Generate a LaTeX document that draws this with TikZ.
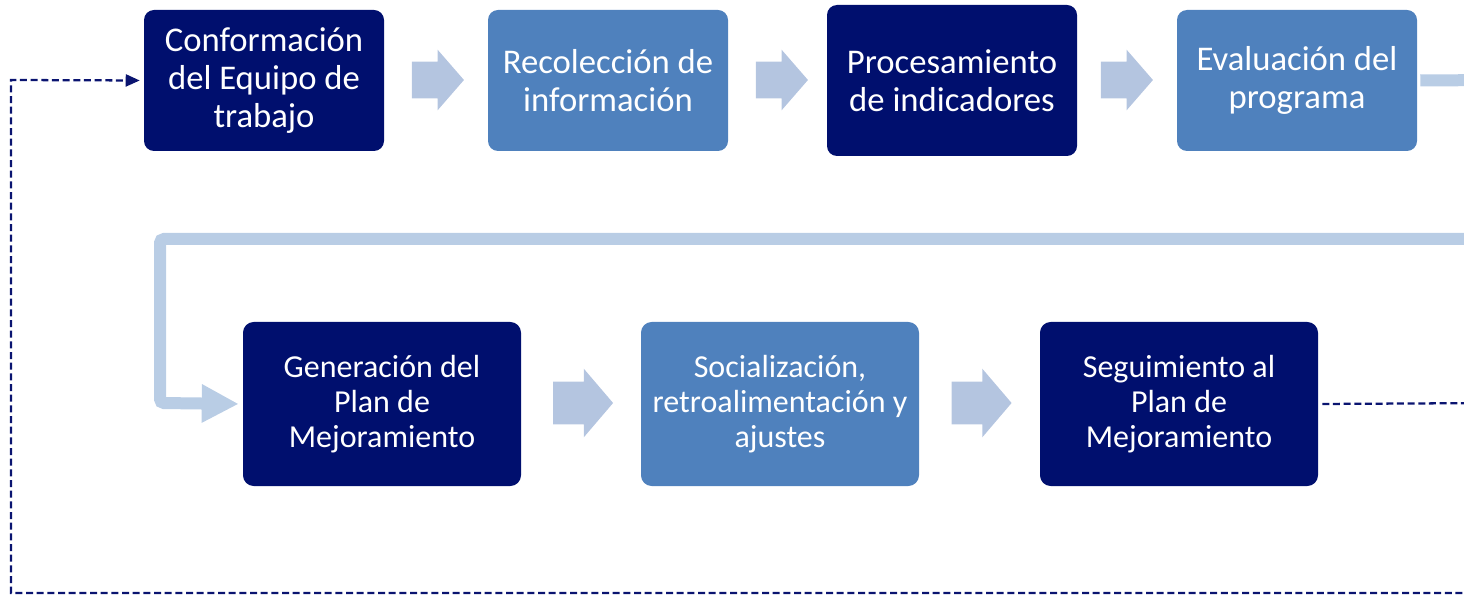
\documentclass[tikz,border=0pt]{standalone}
\usepackage{fontspec}
\setmainfont{Carlito}
\usetikzlibrary{arrows.meta}
\usetikzlibrary{shapes.arrows}

\definecolor{navyBox}{RGB}{0,15,110}
\definecolor{blueBox}{RGB}{79,129,189}
\definecolor{paleArrow}{RGB}{180,197,224}
\definecolor{paleLine}{RGB}{185,205,229}
\definecolor{dashNavy}{RGB}{10,20,112}

\tikzset{
  topbox/.style={rounded corners=7.5pt, text=white, align=center, inner sep=0pt,
    minimum width=180pt, minimum height=105.75pt,
    font=\fontsize{26}{28.5}\selectfont},
  lowbox/.style={rounded corners=8pt, text=white, align=center, inner sep=0pt,
    minimum width=208.5pt, minimum height=123pt,
    font=\fontsize{24}{26.25}\selectfont},
  toparrow/.style={single arrow, fill=paleArrow, inner xsep=0pt, inner ysep=13.5pt,
    minimum height=39pt, single arrow head extend=9pt,
    single arrow tip angle=98},
  lowarrow/.style={single arrow, fill=paleArrow, inner xsep=0pt, inner ysep=15.75pt,
    minimum height=45pt, single arrow head extend=9.75pt,
    single arrow tip angle=99},
}

\begin{document}
\begin{tikzpicture}[x=0.75pt,y=0.75pt,yscale=-1,xscale=1]
\useasboundingbox (0,0) rectangle (1464,595);
%Rounded Rect
\node [topbox, fill=navyBox] (equipo) at (264,80.5) {Conformación\\del Equipo de\\trabajo};
%Rounded Rect
\node [topbox, fill=blueBox] (recoleccion) at (608,80.5) {Recolección de\\información};
%Rounded Rect
\node [topbox, fill=navyBox, minimum width=187.5pt, minimum height=113.25pt] (procesamiento) at (952,80.5) {Procesamiento\\de indicadores};
%Rounded Rect
\node [topbox, fill=blueBox] (evaluacion) at (1297,80.5) {Evaluación del\\programa};
%Right Arrow
\node [toparrow] (flechaA) at (430,80) {};
%Right Arrow
\node [toparrow] (flechaB) at (774,80) {};
%Right Arrow
\node [toparrow] (flechaC) at (1119,80) {};
%Rounded Rect
\node [lowbox, fill=navyBox] (generacion) at (382,404) {Generación del\\Plan de\\Mejoramiento};
%Rounded Rect
\node [lowbox, fill=blueBox] (socializacion) at (780,404) {Socialización,\\retroalimentación y\\ajustes};
%Rounded Rect
\node [lowbox, fill=navyBox] (seguimiento) at (1179,404) {Seguimiento al\\Plan de\\Mejoramiento};
%Right Arrow
\node [lowarrow] (flechaD) at (574,403) {};
%Right Arrow
\node [lowarrow] (flechaE) at (972.5,403) {};
%Elbow connector
\draw [paleLine, line width=9pt, rounded corners=3pt, shorten <=2.25pt, shorten >=3pt,
  -{Triangle[length=27.75pt,width=27pt]}]
  (evaluacion.east) -- (1500,80) -- (1500,239) -- (160,239) -- (160,403) -- (generacion.west);
%Dashed return
\draw [dashNavy, line width=1.7pt, dash pattern=on 5.25pt off 2.75pt, shorten <=3pt, shorten >=3pt,
  -{Triangle[length=10.5pt,width=9pt]}]
  (seguimiento.east) -- (1500,403) -- (1500,593) -- (11,593) -- (11,80) -- (equipo.west);
\end{tikzpicture}
\end{document}
